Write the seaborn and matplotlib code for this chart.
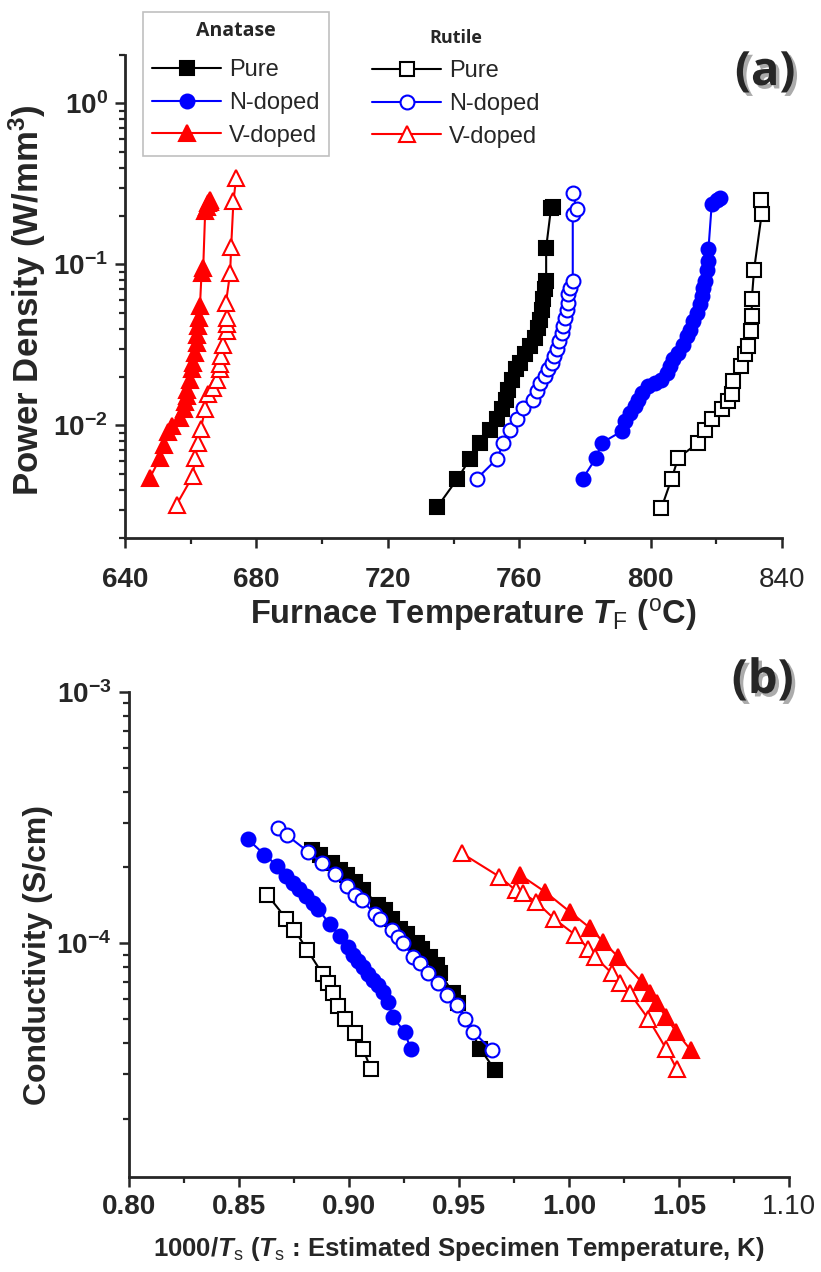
import numpy as np
import matplotlib
matplotlib.use("Agg")
import matplotlib.pyplot as plt
import matplotlib.patheffects as pe
from matplotlib.ticker import MultipleLocator, FuncFormatter, NullFormatter, LogLocator
import seaborn as sns
import pandas as pd

# ---- panel (a): power density vs furnace temperature ----
a_pure_T = [735.1, 741.2, 745.0, 748.1, 751.1, 753.2, 754.7, 756.0, 756.7, 757.7, 759.0, 760.2,
            761.8, 763.3, 764.8, 765.8, 766.3, 766.8, 767.3, 767.8, 768.2, 768.2, 769.7, 770.3]
a_pure_P = [3.13e-3, 4.67e-3, 6.2e-3, 7.8e-3, 9.4e-3, 0.0109, 0.0126, 0.0145, 0.0167, 0.0193, 0.0223, 0.0245,
            0.0276, 0.0311, 0.035, 0.0405, 0.0455, 0.0525, 0.0606, 0.070, 0.0788, 0.127, 0.225, 0.226]

a_N_T = [779.3, 783.4, 785.1, 791.2, 792.2, 793.7, 795.3, 796.3, 797.3, 799.3, 801.3, 803.3, 804.9, 805.9,
         806.9, 808.4, 809.9, 811.0, 812.0, 813.0, 814.0, 815.0, 815.5, 816.0, 816.6, 817.1, 817.6, 817.6,
         818.6, 820.1, 821.1]
a_N_P = [4.67e-3, 6.3e-3, 7.8e-3, 9.2e-3, 0.0106, 0.012, 0.0132, 0.0145, 0.016, 0.0175, 0.0184, 0.0193,
         0.0212, 0.0233, 0.0257, 0.0283, 0.0318, 0.0359, 0.0394, 0.0444, 0.0501, 0.0565, 0.0636, 0.0716,
         0.0788, 0.093, 0.105, 0.124, 0.236, 0.253, 0.26]

a_V_T = [647.6, 650.7, 651.9, 653.2, 654.2, 656.7, 657.8, 658.3, 658.8, 658.8, 659.8, 660.3, 660.8, 661.3,
         661.8, 661.8, 662.3, 662.5, 662.8, 663.3, 663.8, 664.4, 664.9, 665.3, 665.8, 666.0]
a_V_P = [4.75e-3, 6.3e-3, 7.6e-3, 9.1e-3, 9.9e-3, 0.0112, 0.0126, 0.0139, 0.0152, 0.0167, 0.0193, 0.0223,
         0.0245, 0.0283, 0.0326, 0.0367, 0.0412, 0.0468, 0.055, 0.089, 0.0955, 0.215, 0.228, 0.240, 0.245, 0.250]

r_pure_T = [803.3, 806.4, 808.4, 814.5, 816.6, 818.6, 821.6, 823.7, 824.7, 825.2, 827.4, 828.7, 829.8,
            830.5, 830.8, 830.8, 831.5, 833.8, 833.5]
r_pure_P = [3.08e-3, 4.67e-3, 6.3e-3, 7.8e-3, 9.4e-3, 0.011, 0.0126, 0.0142, 0.0156, 0.0189, 0.0233, 0.0276,
            0.0311, 0.0386, 0.0477, 0.0606, 0.093, 0.205, 0.251]

r_N_T = [747.1, 753.2, 755.2, 757.2, 759.2, 761.3, 764.3, 765.3, 766.3, 767.9, 768.9, 769.9, 770.6, 771.4,
         772.2, 772.9, 773.4, 773.9, 774.5, 774.8, 775.0, 775.5, 776.3, 776.3, 777.5, 776.3]
r_N_P = [4.67e-3, 6.2e-3, 7.8e-3, 9.4e-3, 0.011, 0.0129, 0.0145, 0.0163, 0.0184, 0.0202, 0.0223, 0.0245,
         0.027, 0.0297, 0.0334, 0.0377, 0.0414, 0.0467, 0.0525, 0.0578, 0.0651, 0.0717, 0.0788, 0.205, 0.22, 0.279]

r_V_T = [655.7, 660.6, 661.3, 662.3, 663.0, 664.4, 665.4, 666.9, 667.9, 668.9, 668.9, 669.2, 669.9, 670.9,
         671.1, 670.9, 670.7, 672.0, 672.3, 673.0, 673.8]
r_V_P = [3.23e-3, 4.84e-3, 6.3e-3, 7.8e-3, 9.45e-3, 0.0126, 0.0156, 0.0172, 0.0193, 0.0223, 0.024, 0.0269,
         0.0318, 0.0386, 0.0424, 0.0468, 0.0573, 0.089, 0.128, 0.247, 0.342]

# ---- panel (b): conductivity vs 1000/Ts ----
b_a_pure_x = [0.883, 0.8868, 0.8921, 0.8959, 0.8989, 0.9027, 0.9065, 0.9133, 0.9164, 0.9194, 0.9232, 0.9262,
              0.9307, 0.933, 0.9368, 0.9399, 0.9414, 0.9474, 0.9497, 0.9595, 0.9664]
b_a_pure_s = [2.35e-4, 2.24e-4, 2.08e-4, 1.96e-4, 1.87e-4, 1.75e-4, 1.63e-4, 1.42e-4, 1.35e-4, 1.25e-4, 1.14e-4,
              1.09e-4, 9.97e-5, 9.5e-5, 8.8e-5, 8.2e-5, 7.6e-5, 6.3e-5, 5.75e-5, 3.8e-5, 3.12e-5]

b_a_N_x = [0.854, 0.8616, 0.8674, 0.8715, 0.8745, 0.8775, 0.8806, 0.8836, 0.8859, 0.8912, 0.8957, 0.8995,
           0.9018, 0.9041, 0.9064, 0.9086, 0.9109, 0.9132, 0.9154, 0.9177, 0.92, 0.9253, 0.928]
b_a_N_s = [2.59e-4, 2.25e-4, 2.03e-4, 1.85e-4, 1.74e-4, 1.64e-4, 1.54e-4, 1.45e-4, 1.37e-4, 1.19e-4, 1.07e-4,
           9.6e-5, 9.0e-5, 8.5e-5, 8.0e-5, 7.5e-5, 7.1e-5, 6.8e-5, 6.4e-5, 5.8e-5, 5.07e-5, 4.42e-5, 3.8e-5]

b_a_V_x = [0.9777, 0.9891, 1.0005, 1.0095, 1.0156, 1.0224, 1.033, 1.0368, 1.0399, 1.0441, 1.0486, 1.0553]
b_a_V_s = [1.87e-4, 1.6e-4, 1.33e-4, 1.15e-4, 1.01e-4, 8.8e-5, 7.0e-5, 6.3e-5, 5.75e-5, 5.08e-5, 4.44e-5, 3.75e-5]

b_r_pure_x = [0.8628, 0.8715, 0.8752, 0.881, 0.8881, 0.8904, 0.8927, 0.895, 0.8983, 0.9026, 0.9064, 0.9101]
b_r_pure_s = [1.56e-4, 1.25e-4, 1.13e-4, 9.4e-5, 7.5e-5, 6.9e-5, 6.3e-5, 5.6e-5, 4.97e-5, 4.4e-5, 3.77e-5, 3.14e-5]

b_r_N_x = [0.8679, 0.8717, 0.8815, 0.8876, 0.8936, 0.8989, 0.9027, 0.9058, 0.9118, 0.9141, 0.9194, 0.9224,
           0.9247, 0.9292, 0.9323, 0.9361, 0.9406, 0.9444, 0.949, 0.9527, 0.9565, 0.9648]
b_r_N_s = [2.86e-4, 2.69e-4, 2.31e-4, 2.08e-4, 1.88e-4, 1.69e-4, 1.55e-4, 1.48e-4, 1.31e-4, 1.25e-4, 1.13e-4,
           1.06e-4, 1.0e-4, 8.8e-5, 8.3e-5, 7.6e-5, 6.9e-5, 6.2e-5, 5.66e-5, 5.0e-5, 4.43e-5, 3.75e-5]

b_r_V_x = [0.9512, 0.9683, 0.9759, 0.979, 0.985, 0.9932, 1.0027, 1.0088, 1.0118, 1.0194, 1.0232, 1.0277,
           1.036, 1.0441, 1.0489]
b_r_V_s = [2.28e-4, 1.84e-4, 1.62e-4, 1.58e-4, 1.46e-4, 1.25e-4, 1.08e-4, 9.5e-5, 8.8e-5, 7.6e-5, 6.9e-5, 6.3e-5,
           5.0e-5, 3.8e-5, 3.16e-5]

labels = ["Pure", "N-doped", "V-doped"]

sns.set_style("ticks")
plt.rcParams['font.family'] = ['Liberation Sans', 'DejaVu Sans']
plt.rcParams['mathtext.fontset'] = 'custom'
plt.rcParams['mathtext.rm'] = 'Liberation Sans'
plt.rcParams['mathtext.it'] = 'Liberation Sans:italic'
plt.rcParams['mathtext.bf'] = 'Liberation Sans:bold'
plt.rcParams['mathtext.bfit'] = 'Liberation Sans:bold:italic'

fig = plt.figure(figsize=(8.21, 12.72), dpi=100)
ax_a = fig.add_axes([0.1523, 0.577, 0.8002, 0.3798])
ax_b = fig.add_axes([0.1571, 0.0747, 0.8039, 0.3813])


def draw(ax, x, y, color, marker, filled, label=None, ms=10):
    sns.lineplot(x=x, y=y, ax=ax, color=color, marker=marker, markersize=ms,
                 markerfacecolor=color if filled else 'white', markeredgecolor=color,
                 markeredgewidth=1.5, linewidth=1.5, sort=False, estimator=None, label=label)


# panel (a)
draw(ax_a, a_pure_T, a_pure_P, 'black', 's', True, labels[0])
draw(ax_a, a_N_T, a_N_P, '#0000FF', 'o', True, labels[1])
draw(ax_a, a_V_T, a_V_P, '#FF0000', '^', True, labels[2], ms=11)
draw(ax_a, r_pure_T, r_pure_P, 'black', 's', False, labels[0])
draw(ax_a, r_N_T, r_N_P, '#0000FF', 'o', False, labels[1])
draw(ax_a, r_V_T, r_V_P, '#FF0000', '^', False, labels[2], ms=11)

# panel (b)
draw(ax_b, b_a_pure_x, b_a_pure_s, 'black', 's', True)
draw(ax_b, b_a_V_x, b_a_V_s, '#FF0000', '^', True, ms=11)
draw(ax_b, b_a_N_x, b_a_N_s, '#0000FF', 'o', True)
draw(ax_b, b_r_pure_x, b_r_pure_s, 'black', 's', False)
draw(ax_b, b_r_N_x, b_r_N_s, '#0000FF', 'o', False)
draw(ax_b, b_r_V_x, b_r_V_s, '#FF0000', '^', False, ms=11)

sup = FuncFormatter(lambda v, p: r'$\mathbf{10^{%d}}$' % round(np.log10(v)))
for ax in (ax_a, ax_b):
    ax.set_yscale('log')
    ax.yaxis.set_major_locator(LogLocator(base=10))
    ax.yaxis.set_minor_locator(LogLocator(base=10, subs=np.arange(2, 10)))
    ax.yaxis.set_major_formatter(sup)
    ax.yaxis.set_minor_formatter(NullFormatter())
    sns.despine(ax=ax)
    for s in ('left', 'bottom'):
        ax.spines[s].set_linewidth(2)
    ax.tick_params(which='major', direction='out', length=7.5, width=1.8, labelsize=20)
    ax.tick_params(which='minor', direction='out', length=4.5, width=1.6)
    ax.tick_params(axis='y', which='major', pad=5)
    for t in ax.get_xticklabels() + ax.get_yticklabels():
        t.set_fontweight('bold')

ax_a.tick_params(axis='x', which='major', pad=13)
ax_b.tick_params(axis='x', which='major', pad=5)

ax_a.set_xlim(640, 840)
ax_a.set_ylim(2e-3, 2)
ax_a.xaxis.set_major_locator(MultipleLocator(40))
ax_a.xaxis.set_minor_locator(MultipleLocator(20))
ax_a.set_xlabel(r'Furnace Temperature $\mathbfit{T}_{\mathrm{F}}$ ($^{\mathrm{o}}$C)',
                fontsize=23.5, fontweight='bold')
ax_a.set_ylabel(r'Power Density (W/mm$^{\mathbf{3}}$)', fontsize=25, fontweight='bold')
ax_a.xaxis.set_label_coords(0.53, -0.120)
ax_a.yaxis.set_label_coords(-0.117, 0.493)

ax_b.set_xlim(0.80, 1.10)
ax_b.set_ylim(1.17e-5, 1e-3)
ax_b.xaxis.set_major_locator(MultipleLocator(0.05))
ax_b.xaxis.set_minor_locator(MultipleLocator(0.025))
ax_b.xaxis.set_major_formatter(FuncFormatter(lambda v, p: '%.2f' % v))
ax_b.set_xlabel(r'1000/$\mathbfit{T}_{\mathrm{s}}$ ($\mathbfit{T}_{\mathrm{s}}$ : Estimated Specimen Temperature, K)',
                fontsize=18.5, fontweight='bold')
ax_b.set_ylabel('Conductivity (S/cm)', fontsize=23, fontweight='bold')
ax_b.xaxis.set_label_coords(0.5, -0.12)
ax_b.yaxis.set_label_coords(-0.115, 0.458)
if ax_b.get_legend() is not None:
    ax_b.get_legend().remove()

# legends
handles, labs = ax_a.get_legend_handles_labels()
leg_kw = dict(fontsize=17, handlelength=2.9, handletextpad=0.35, labelspacing=0.45, borderpad=0.4,
              bbox_transform=fig.transFigure, loc='upper left', borderaxespad=0)
leg1 = ax_a.legend(handles[:3], labs[:3], title='Anatase', bbox_to_anchor=(0.174, 0.9906),
                   frameon=True, fancybox=False, edgecolor='#c0c0c0', framealpha=1,
                   title_fontproperties={'family': 'Open Sans', 'weight': 'bold', 'size': 14}, **leg_kw)
leg1.get_frame().set_linewidth(1.2)
leg1._legend_box.sep = 13
ax_a.add_artist(leg1)
leg2 = ax_a.legend(handles[3:], labs[3:], title='Rutile', bbox_to_anchor=(0.442, 0.985), frameon=False,
                   title_fontproperties={'family': 'Open Sans', 'weight': 'bold', 'size': 13}, **leg_kw)
leg2._legend_box.sep = 10

shadow = [pe.withSimplePatchShadow(offset=(2.5, -2.5), shadow_rgbFace='#888888', alpha=0.7)]
fig.text(0.932, 0.943, '(a)', fontsize=34, fontweight='bold', family='Open Sans',
         ha='center', va='center', path_effects=shadow)
fig.text(0.929, 0.465, '(b)', fontsize=34, fontweight='bold', family='Open Sans',
         ha='center', va='center', path_effects=shadow)

plt.savefig('out.png', dpi=100)
